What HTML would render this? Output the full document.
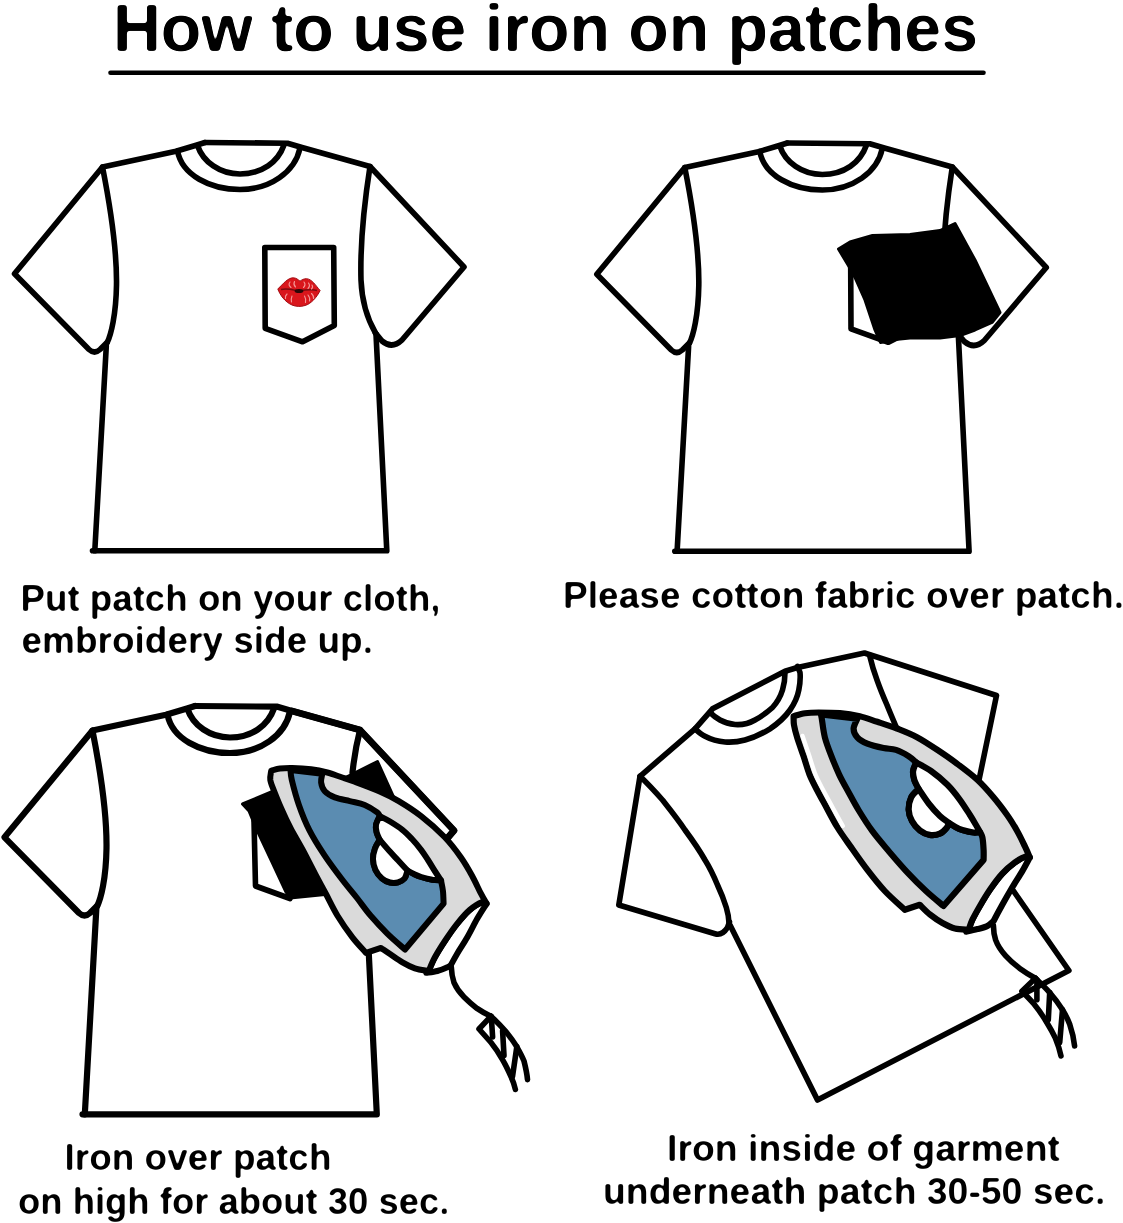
<!DOCTYPE html>
<html>
<head>
<meta charset="utf-8">
<title>How to use iron on patches</title>
<style>
html,body{margin:0;padding:0;background:#ffffff;}
body{width:1123px;height:1223px;overflow:hidden;}
svg{display:block;}
text{font-family:"Liberation Sans",sans-serif;font-weight:bold;fill:#000;stroke:#000;stroke-linejoin:round;stroke-linecap:round;}
.ln{fill:none;stroke:#000;stroke-width:var(--sw,5.6);stroke-linejoin:round;stroke-linecap:round;}
.blk{fill:#000;stroke:#000;stroke-width:3;stroke-linejoin:round;}
</style>
</head>
<body>
<svg width="1123" height="1223" viewBox="0 0 1123 1223">
<defs>
  <filter id="rnd" x="-2%" y="-20%" width="104%" height="140%" color-interpolation-filters="sRGB">
    <feGaussianBlur in="SourceAlpha" stdDeviation="1.6" result="b"/>
    <feComponentTransfer in="b"><feFuncA type="linear" slope="4.5" intercept="-1.9"/></feComponentTransfer>
  </filter>
  <filter id="rnds" x="-2%" y="-20%" width="104%" height="140%" color-interpolation-filters="sRGB">
    <feGaussianBlur in="SourceAlpha" stdDeviation="0.95" result="b"/>
    <feComponentTransfer in="b"><feFuncA type="linear" slope="3" intercept="-1.1"/></feComponentTransfer>
  </filter>
  <!-- basic t-shirt, in the coordinates of panel 1 -->
  <g id="shirtbase" class="ln">
    <!-- shoulders + sleeves -->
    <path d="M205,142.5 L287.5,143.2 L302,147.5 L370,166.5 L464,267 L402,340 Q392,349.5 382,341 L375.5,333"/>
    <path d="M205,142.5 L197,145 L176,151.3 L102.5,167 L14.5,273.8 L89,349.5 Q94.5,354.5 100,349.5 L107,342.5"/>
    <!-- body -->
    <path d="M376,334 L386.8,550.8 L92.5,550.8"/>
    <path d="M94.8,550.8 L106.3,346"/>
    <!-- left armhole -->
    <path d="M102.5,167 C110,205 117,250 116.5,285 C116,315 111,335 107,343"/>
    <!-- collar -->
    <path d="M177.5,151 C182,175 210,189.5 240,189.5 C270,189.5 295,172 300,148"/>
    <path d="M197.5,145.5 C203,162 220,174 240,174 C262,174 278,162 284,145"/>
  </g>
  <path id="armR" class="ln" d="M370,166.5 C364,205 360,243 361,280 C362,305 368,320 375.5,333"/>
  <path id="pocket" class="ln" d="M264.8,247.5 L333.7,247.5 L334.3,325.5 L302.6,341.8 L265.2,328.3 Z"/>
<!--IRON_START-->
<g id="iron">
  <path d="M486.6,903.6 C485.1,906.1 480.5,913.0 477.3,918.6 C474.1,924.2 470.6,931.5 467.3,937.3 C464.0,943.1 460.0,948.9 457.3,953.5 C454.6,958.1 452.1,962.8 451.1,964.7 C450.5,965.1 449.7,966.2 447.4,967.2 C445.1,968.2 440.9,970.1 437.4,971.0 C433.9,971.9 428.1,972.5 426.2,972.8 L428.7,971.0 C429.7,968.7 432.2,962.3 434.9,957.3 C437.6,952.3 441.2,946.6 444.9,941.0 C448.6,935.4 453.1,928.8 457.3,923.6 C461.5,918.4 465.6,913.5 469.8,909.9 C474.0,906.3 479.5,903.1 482.3,902.1 C485.1,901.1 485.9,903.4 486.6,903.6 Z" fill="#ffffff" stroke="#000" stroke-width="6.0" stroke-linejoin="round" stroke-linecap="round"/>
  <path d="M271.2,770.6 C272.7,770.3 276.5,769.0 280.0,768.6 C283.5,768.2 287.2,768.0 292.4,768.1 C297.6,768.2 305.3,768.6 311.1,769.3 C316.9,770.0 322.1,771.1 327.3,772.5 C332.5,773.9 337.7,776.0 342.3,777.5 C346.9,779.0 348.6,779.5 354.8,781.8 C361.0,784.1 372.4,788.3 379.7,791.5 C387.0,794.7 391.8,797.0 398.7,801.1 C405.6,805.2 413.4,810.1 421.1,816.1 C428.8,822.1 438.2,830.4 444.8,837.3 C451.4,844.2 456.4,851.0 461.0,857.5 C465.6,864.0 469.0,870.2 472.3,876.2 C475.6,882.2 478.6,889.1 481.0,893.7 C483.4,898.3 485.7,902.0 486.6,903.6 C485.9,903.4 485.1,901.1 482.3,902.1 C479.5,903.1 474.0,906.3 469.8,909.9 C465.6,913.5 461.5,918.4 457.3,923.6 C453.1,928.8 448.6,935.4 444.9,941.0 C441.2,946.6 437.6,952.3 434.9,957.3 C432.2,962.3 429.7,968.7 428.7,971.0 C426.4,970.5 419.3,969.8 414.9,968.3 C410.5,966.8 406.6,964.7 402.5,962.3 C398.4,959.9 393.6,956.4 390.0,954.0 C386.4,951.6 382.5,948.9 381.0,947.9 L366.1,952.9 C363.8,950.3 357.2,943.5 352.4,937.3 C347.6,931.1 341.9,922.9 337.5,915.7 C333.1,908.5 329.6,900.8 326.0,894.0 C322.4,887.2 319.5,882.0 315.6,874.7 C311.7,867.4 306.9,857.6 302.8,850.0 C298.7,842.4 294.6,835.8 291.0,829.0 C287.4,822.2 284.2,815.2 281.5,809.0 C278.8,802.8 276.4,796.8 274.5,792.0 C272.6,787.2 270.9,783.6 270.3,780.0 C269.8,776.4 271.1,772.2 271.2,770.6 Z" fill="#dadada" stroke="#000" stroke-width="6.0" stroke-linejoin="round" stroke-linecap="round"/>
  <path d="M290.5,770.0 L322.3,773.7 C322.1,775.2 320.7,779.5 321.1,782.4 C321.5,785.3 322.5,788.7 324.8,791.2 C327.1,793.7 330.6,795.8 334.8,797.4 C339.0,799.0 344.8,799.9 349.8,801.1 C354.8,802.4 360.1,803.0 364.7,804.9 C369.3,806.8 374.7,810.5 377.2,812.4 C379.7,814.3 379.3,815.5 379.7,816.1 C379.1,817.5 376.5,822.1 376.0,824.8 C375.5,827.5 376.0,829.8 376.6,832.3 C377.2,834.8 379.2,838.5 379.7,839.8 C378.9,841.2 376.1,845.3 375.0,848.5 C373.9,851.7 372.9,855.4 373.0,859.0 C373.1,862.6 374.0,866.8 375.5,870.0 C377.0,873.2 379.6,876.4 382.0,878.5 C384.4,880.6 387.3,881.9 390.0,882.5 C392.7,883.1 395.6,883.0 398.0,882.3 C400.4,881.6 402.9,880.5 404.5,878.5 C406.1,876.5 407.0,871.8 407.5,870.5 C408.7,871.2 412.6,873.4 414.9,874.5 C417.2,875.6 418.3,876.1 421.2,877.0 C424.1,877.9 429.0,879.2 432.3,879.8 C435.6,880.3 439.6,880.2 441.0,880.3 C441.3,882.1 442.6,887.3 443.0,891.2 C443.4,895.1 443.5,901.5 443.6,903.6 L405.0,949.5 C402.1,946.9 393.1,939.3 387.3,933.6 C381.6,927.9 375.6,921.4 370.5,915.5 C365.4,909.6 361.7,904.0 357.0,898.0 C352.3,892.0 347.8,886.9 342.3,879.7 C336.8,872.5 329.7,863.1 324.2,854.8 C318.7,846.5 313.4,838.1 309.2,829.8 C305.0,821.5 301.8,813.2 298.9,804.9 C296.0,796.6 293.2,785.8 291.8,780.0 C290.4,774.2 290.7,771.7 290.5,770.0 Z" fill="#5b8cb1" stroke="#000" stroke-width="6.0" stroke-linejoin="round" stroke-linecap="round"/>
  <path d="M379.7,816.1 C381.4,817.0 386.2,819.2 390.0,821.5 C393.8,823.8 398.7,826.9 402.4,829.8 C406.1,832.7 408.9,835.7 412.0,839.0 C415.1,842.3 418.4,846.3 421.1,849.8 C423.8,853.3 425.7,856.5 428.0,860.0 C430.3,863.5 432.6,867.6 434.8,871.0 C437.0,874.4 440.0,878.8 441.0,880.3 C439.6,880.2 435.6,880.3 432.3,879.8 C429.0,879.2 424.1,877.9 421.2,877.0 C418.3,876.1 417.2,875.6 414.9,874.5 C412.6,873.4 408.7,871.2 407.5,870.5 C407.0,871.8 406.1,876.5 404.5,878.5 C402.9,880.5 400.4,881.6 398.0,882.3 C395.6,883.0 392.7,883.1 390.0,882.5 C387.3,881.9 384.4,880.6 382.0,878.5 C379.6,876.4 377.0,873.2 375.5,870.0 C374.0,866.8 373.1,862.6 373.0,859.0 C372.9,855.4 373.9,851.7 375.0,848.5 C376.1,845.3 378.9,841.2 379.7,839.8 C379.2,838.5 377.2,834.8 376.6,832.3 C376.0,829.8 375.5,827.5 376.0,824.8 C376.5,822.1 379.1,817.5 379.7,816.1 Z" fill="#ffffff" stroke="#000" stroke-width="6.0" stroke-linejoin="round" stroke-linecap="round"/>
  <path d="M379.7,839.8 C381.4,841.8 386.8,848.2 389.9,851.6 C392.9,855.0 395.1,857.1 398.0,860.2 C400.9,863.4 405.9,868.8 407.5,870.5" fill="none" stroke="#000" stroke-width="6.0" stroke-linejoin="round" stroke-linecap="round"/>
</g>
<g id="iron4">
  <path d="M1029.8,857.4 C1028.5,859.7 1025.2,866.1 1022.3,871.1 C1019.4,876.1 1015.6,881.7 1012.3,887.3 C1009.0,892.9 1005.4,899.2 1002.3,904.8 C999.2,910.4 995.0,918.3 993.6,921.0 C992.6,921.8 990.1,924.6 987.4,926.0 C984.7,927.4 980.9,928.2 977.4,929.1 C973.9,930.0 968.1,931.2 966.2,931.6 L968.7,929.7 C969.3,928.0 970.5,923.7 972.4,919.7 C974.3,915.8 977.0,911.0 979.9,906.0 C982.8,901.0 986.2,895.2 989.9,889.8 C993.6,884.4 998.1,878.2 1002.3,873.6 C1006.4,869.0 1010.8,865.3 1014.8,862.4 C1018.8,859.5 1023.5,857.2 1026.0,856.4 C1028.5,855.6 1029.2,857.2 1029.8,857.4 Z" fill="#ffffff" stroke="#000" stroke-width="6.2" stroke-linejoin="round" stroke-linecap="round"/>
  <path d="M793.6,716.2 C795.5,715.7 800.8,713.8 805.0,713.2 C809.2,712.6 812.9,712.5 818.7,712.5 C824.5,712.5 833.0,712.5 839.9,713.1 C846.8,713.7 853.6,714.8 859.8,716.2 C866.0,717.7 871.1,719.8 877.3,721.8 C883.5,723.8 890.4,725.9 897.0,728.5 C903.6,731.1 910.3,733.6 917.0,737.2 C923.7,740.8 930.9,745.6 937.4,749.9 C943.9,754.2 949.5,758.0 956.1,763.0 C962.8,768.0 971.1,774.1 977.3,779.8 C983.5,785.5 988.5,791.3 993.5,797.3 C998.5,803.2 1003.5,809.9 1007.5,815.5 C1011.5,821.1 1014.4,826.1 1017.3,831.2 C1020.2,836.3 1022.7,841.8 1024.8,846.2 C1026.9,850.6 1029.0,855.5 1029.8,857.4 C1029.2,857.2 1028.5,855.6 1026.0,856.4 C1023.5,857.2 1018.8,859.5 1014.8,862.4 C1010.8,865.3 1006.4,869.0 1002.3,873.6 C998.1,878.2 993.6,884.4 989.9,889.8 C986.2,895.2 982.8,901.0 979.9,906.0 C977.0,911.0 974.3,915.8 972.4,919.7 C970.5,923.7 969.3,928.0 968.7,929.7 C966.4,929.5 959.3,929.6 954.9,928.5 C950.5,927.4 946.6,925.3 942.5,923.0 C938.4,920.7 933.8,917.5 930.0,914.5 C926.2,911.5 921.5,906.4 919.8,904.8 L904.8,909.8 C901.5,906.7 891.0,897.6 884.8,891.0 C878.6,884.4 873.0,877.2 867.4,869.9 C861.8,862.6 856.2,854.5 851.2,847.4 C846.2,840.3 841.5,834.0 837.5,827.5 C833.5,821.0 830.4,814.8 827.0,808.5 C823.6,802.2 819.9,795.6 817.0,790.0 C814.1,784.4 811.9,780.4 809.6,774.8 C807.4,769.1 805.6,762.3 803.5,756.1 C801.4,749.9 798.7,742.6 797.1,737.4 C795.5,732.2 794.6,728.5 794.0,725.0 C793.4,721.5 793.7,717.7 793.6,716.2 Z" fill="#dadada" stroke="#000" stroke-width="6.2" stroke-linejoin="round" stroke-linecap="round"/>
  <path d="M802.5,735.8 C803.6,738.9 806.8,748.3 808.9,754.5 C811.0,760.7 812.8,767.5 815.0,773.2 C817.2,778.8 819.5,782.8 822.4,788.4 C825.3,794.0 829.0,800.6 832.4,806.9 C835.8,813.1 841.1,822.7 842.9,825.9" fill="none" stroke="#fff" stroke-width="4.2" stroke-linecap="round"/>
  <path d="M821.0,714.5 L857.3,718.7 C856.7,720.4 853.6,725.6 853.6,728.7 C853.6,731.8 855.0,734.9 857.3,737.4 C859.6,739.9 862.9,741.8 867.3,743.6 C871.7,745.4 878.7,747.0 883.5,748.0 C888.3,749.0 891.8,748.5 896.0,749.9 C900.2,751.2 905.1,754.0 908.5,756.1 C911.9,758.2 914.9,761.4 916.2,762.4 C915.7,763.9 913.4,768.2 913.1,771.1 C912.8,774.0 913.4,776.8 914.3,779.8 C915.2,782.8 918.0,787.5 918.7,789.0 C917.5,790.4 912.9,793.8 911.2,797.3 C909.5,800.8 908.6,805.8 908.7,809.8 C908.8,813.8 910.1,817.5 912.0,821.0 C913.9,824.5 917.0,828.2 920.0,830.5 C923.0,832.8 926.4,834.4 929.7,834.9 C933.0,835.4 936.9,834.9 939.7,833.7 C942.5,832.6 945.0,829.8 946.5,828.0 C948.0,826.2 948.6,823.8 949.0,823.0 C950.1,823.7 953.3,825.8 955.5,827.0 C957.7,828.2 959.4,829.1 962.4,830.0 C965.4,830.9 970.7,832.2 973.6,832.5 C976.5,832.8 978.9,832.1 980.0,832.0 C980.4,832.9 981.8,834.4 982.4,837.4 C983.0,840.4 983.4,846.1 983.6,849.9 C983.8,853.6 983.6,858.2 983.6,859.9 L943.5,906.0 C940.6,903.5 932.0,896.6 926.0,891.0 C920.0,885.4 913.3,878.7 907.3,872.3 C901.3,865.9 895.6,859.2 889.8,852.4 C884.0,845.5 877.6,838.3 872.4,831.2 C867.2,824.1 862.4,816.4 858.5,810.0 C854.6,803.6 852.2,798.9 849.0,793.0 C845.8,787.1 842.2,780.9 839.3,774.8 C836.4,768.6 833.8,762.3 831.4,756.1 C829.0,749.9 826.5,743.6 824.9,737.4 C823.3,731.2 822.4,722.5 821.8,718.7 C821.1,714.9 821.1,715.2 821.0,714.5 Z" fill="#5b8cb1" stroke="#000" stroke-width="6.2" stroke-linejoin="round" stroke-linecap="round"/>
  <path d="M916.2,762.4 C918.7,763.9 926.0,767.4 931.2,771.1 C936.4,774.8 942.6,780.0 947.4,784.8 C952.2,789.6 956.2,794.8 959.9,799.8 C963.6,804.8 967.1,810.6 969.8,814.8 C972.5,819.0 974.3,822.1 976.0,825.0 C977.7,827.9 979.3,830.8 980.0,832.0 C978.9,832.1 976.5,832.8 973.6,832.5 C970.7,832.2 965.4,830.9 962.4,830.0 C959.4,829.1 957.7,828.2 955.5,827.0 C953.3,825.8 950.1,823.7 949.0,823.0 C948.6,823.8 948.0,826.2 946.5,828.0 C945.0,829.8 942.5,832.6 939.7,833.7 C936.9,834.9 933.0,835.4 929.7,834.9 C926.4,834.4 923.0,832.8 920.0,830.5 C917.0,828.2 913.9,824.5 912.0,821.0 C910.1,817.5 908.8,813.8 908.7,809.8 C908.6,805.8 909.5,800.8 911.2,797.3 C912.9,793.8 917.5,790.4 918.7,789.0 C918.0,787.5 915.2,782.8 914.3,779.8 C913.4,776.8 912.8,774.0 913.1,771.1 C913.4,768.2 915.7,763.9 916.2,762.4 Z" fill="#ffffff" stroke="#000" stroke-width="6.2" stroke-linejoin="round" stroke-linecap="round"/>
  <path d="M918.7,789.0 C920.4,791.4 925.2,799.0 928.7,803.5 C932.2,808.0 936.5,812.8 939.9,816.0 C943.3,819.2 947.5,821.8 949.0,823.0" fill="none" stroke="#000" stroke-width="6.2" stroke-linejoin="round" stroke-linecap="round"/>
</g>
<!--IRON_END-->
</defs>

<rect x="0" y="0" width="1123" height="1223" fill="#ffffff"/>

<!-- ===== Title ===== -->
<text filter="url(#rnd)" x="113" y="51" font-size="67" stroke-width="0" textLength="865" lengthAdjust="spacingAndGlyphs">How to use iron on patches</text>
<line x1="110.5" y1="72.7" x2="983.5" y2="72.7" stroke="#000" stroke-width="4.6" stroke-linecap="round"/>

<!-- ===== Panel 1 ===== -->
<use href="#shirtbase"/>
<use href="#armR"/>
<use href="#pocket"/>
<!-- lips -->
<g id="lips">
  <path d="M277.8,289 C283,284 288,277.5 293.5,277.8 C296.5,278 298.5,280 300,281.2 C301.5,280 304,278.5 306.5,278.7 C312,279 316,286 320.1,290.5 C317,297 311,304 305,305.5 C301,306.8 296,306.8 292,305 C285,302 280,295 277.8,289 Z" fill="#d9161c" stroke="#a30d13" stroke-width="1"/>
  <path d="M281,289.5 C288,288 293,290 299,291 C305,290 311,289 317,290.5" fill="none" stroke="#7a0a10" stroke-width="1.5"/>
  <ellipse cx="299" cy="291" rx="4.4" ry="2" fill="#2a0808"/>
  <g fill="none" stroke="#f39595" stroke-width="1.15" stroke-linecap="round">
    <path d="M290,282 C288.5,284 289,286 291,287.5"/>
    <path d="M294.5,281.5 C293.5,283.5 294,285.5 295.5,287"/>
    <path d="M304,282 C305.5,284 305,286 303.5,287.5"/>
    <path d="M308.5,283 C310,285 309.5,287 308,288.5"/>
    <path d="M312,285 C313,286.5 312.5,288 311.5,289"/>
    <path d="M287,294 C285.5,295.5 285,297 285.5,298.5"/>
    <path d="M292,296 C291,298.5 291,300.5 291.5,302"/>
    <path d="M304.5,296 C306,298.5 306,300.5 305.5,302.5"/>
    <path d="M308,295 C310,297.5 310,299.5 309.5,301"/>
    <path d="M311.5,293.5 C313.5,295.5 314,297 313.5,298.5"/>
  </g>
</g>
<text filter="url(#rnds)" x="20.5" y="611" font-size="36" stroke-width="0" textLength="420" lengthAdjust="spacingAndGlyphs">Put patch on your cloth,</text>
<text filter="url(#rnds)" x="21.5" y="652.8" font-size="36" stroke-width="0" textLength="351.5" lengthAdjust="spacingAndGlyphs">embroidery side up.</text>

<!-- ===== Panel 2 ===== -->
<g transform="translate(582.3,0.5)">
  <use href="#shirtbase"/>
  <use href="#armR"/>
  <use href="#pocket" transform="translate(3.5,0)"/>
</g>
<path class="blk" d="M838.5,249 L850,242 L872.5,235.5 L910,234.5 L940,230.5 L955,223.5 L975,260 L1000,312.5 L992,322.5 L975,330 L960,335.5 L940,338 L910,338 L895,339.5 L880.5,342.5 L875,330 L865,300 L855,277.5 L849,266.5 Z"/>
<text filter="url(#rnds)" x="563" y="607.7" font-size="36" stroke-width="0" textLength="561" lengthAdjust="spacingAndGlyphs">Please cotton fabric over patch.</text>

<!-- ===== Panel 3 ===== -->
<g transform="translate(-10,563.5)" style="--sw:6.2">
  <use href="#shirtbase"/>
  <path class="ln" d="M370,166.5 C366,182 364,195 362.5,209"/>
  <path class="ln" style="stroke-width:6.8" d="M302,147.5 L370,166.5 L464,267 L452,281"/>
</g>
<!-- pocket visible part -->
<path class="ln" d="M254,821 L255.5,886 L290,898.5"/>
<!-- black cotton fabric -->
<path class="blk" d="M242.5,804 L272.5,791.5 L330,785 L352.5,774 L377.5,761.5 L395,800 L400,880 L340,893 L315,895.5 L290,898 L286,892 L272,862 L256,828 L249,811 Z"/>
<!-- iron -->
<use href="#iron"/>
<!-- cord -->
<g class="ln">
  <path d="M451.3,967 C451.5,973 452.5,978 454,982.7 C456.5,988.5 460,993 464,997 C468,1001 472.5,1005 477,1008.4 C481.5,1011.5 486,1014 491,1016.2"/>
  <path d="M491,1016.2 L479,1029 C483,1033.5 487,1038 491,1042.5 C495.5,1048 499,1053.5 502.5,1059.6 C506,1065.5 508.5,1071 511,1076.7 C513,1081 514.5,1085.5 515.4,1089.5"/>
  <path d="M491,1016.2 C496,1021 501,1026 505.4,1031 C509.5,1036 513.5,1041.5 516.8,1046.8 C519.5,1051.5 522,1056 524,1061 C525.5,1067 527,1073 527.5,1079.6"/>
  <path d="M491.3,1017 L492.6,1036.9"/>
  <path d="M502.6,1031 L504,1055.4"/>
  <path d="M516.8,1046.8 L512.5,1076.7"/>
</g>
<text filter="url(#rnds)" x="64.5" y="1170" font-size="36" stroke-width="0" textLength="267" lengthAdjust="spacingAndGlyphs">Iron over patch</text>
<text filter="url(#rnds)" x="18" y="1213.7" font-size="36" stroke-width="0" textLength="431.5" lengthAdjust="spacingAndGlyphs">on high for about 30 sec.</text>


<!-- ===== Panel 4 ===== -->
<g class="ln">
  <!-- shoulder line + back panel -->
  <path d="M979,780 L996.5,695.5 L864.5,653 L797.5,667.5 L785,671.3 L712.5,708.8 L695,728.8 L640,776.3 L618.8,905 L715,933.8 Q722,936 727.5,927.5 L729.5,922"/>
  <!-- armhole -->
  <path d="M640,776.3 C648,784 655,791.5 662.5,800 C670,809.5 678,819.5 685,830 C692,839.5 699,849.5 705,860 C710,868 714,876.5 717.5,885 C721,892.5 724,900 726.3,907.5 C727.8,912.5 728.8,917.5 729,923"/>
  <!-- body -->
  <path d="M730,925 L817.5,1100 L1068.9,970.5 L1010,886"/>
  <!-- inner back curve -->
  <path d="M869.5,655 C871.5,663.5 874,672 877,680 C880,688.5 883.5,697 887,705 C890,712.5 893,719.5 896,726.5"/>
  <!-- collar -->
  <path d="M695,728.8 C698,731.5 701.5,734.5 705,736.3 C711.5,739.8 718,741.5 725,742 C731.5,742.5 738.5,741.8 745,740 C754,737.5 762.5,733.5 770,728.8 C778,723.5 785,717 790,710 C794.5,703.5 797.5,697 798.8,690 C800,684 800.5,678 800,672.5 L797.5,666.3"/>
  <path d="M710,712.5 C713,715.5 716.5,718 720,720 C724.5,722.5 729.5,724 735,724.5 C742,725 749,723.5 755,720 C761.5,716.5 767.5,712 772.5,707.5 C777,702.5 780.5,696.5 782.5,690 C784.2,684.5 785,678.5 785,672.5"/>
</g>
<!-- iron 4 -->
<use href="#iron4"/>
<!-- cord 4 -->
<g class="ln">
  <path d="M993.4,925.6 C993.5,930.5 994.2,935.5 995.6,939.9 C997.8,946 1001.3,951 1005.5,955.6 C1009.8,960.3 1014.6,964.6 1019.8,968.4 C1024.8,972 1030,975.3 1035.4,978.3"/>
  <path d="M1035.4,978.3 L1021.9,991.2 C1026,995.4 1030.2,999.6 1034,1004 C1038.7,1009.8 1043,1016 1046.8,1022.5 C1050,1027.7 1053,1033 1055.4,1038.2 C1057.8,1044 1059.8,1050 1061,1056"/>
  <path d="M1035.4,978.3 C1040.3,982.9 1045.2,987.6 1049.7,992.6 C1054.4,998 1058.8,1003.8 1062.5,1009.7 C1065.3,1014.3 1067.7,1019 1069.6,1023.9 C1072,1031 1073.8,1038.5 1074.6,1046"/>
  <path d="M1036.9,979.8 L1036.9,999.7"/>
  <path d="M1049.7,992.6 L1048.3,1019.7"/>
  <path d="M1062.5,1009.7 L1059.7,1042.5"/>
</g>
<text filter="url(#rnds)" x="667" y="1161" font-size="36" stroke-width="0" textLength="393" lengthAdjust="spacingAndGlyphs">Iron inside of garment</text>
<text filter="url(#rnds)" x="603" y="1203.8" font-size="36" stroke-width="0" textLength="502.5" lengthAdjust="spacingAndGlyphs">underneath patch 30-50 sec.</text>


</svg>
</body>
</html>
